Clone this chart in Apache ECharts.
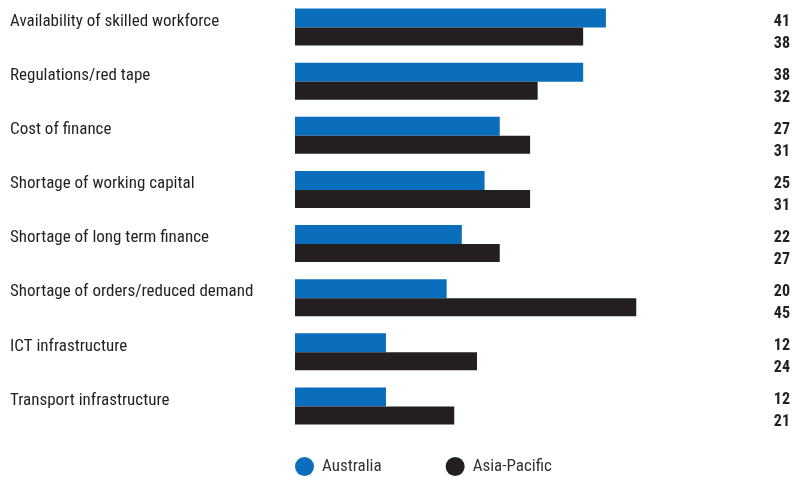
<!DOCTYPE html>
<html>
<head>
<meta charset="utf-8">
<script src="https://cdn.jsdelivr.net/npm/echarts@6/dist/echarts.min.js"></script>
<style>
  html, body { margin: 0; padding: 0; background: #fff; }
  #chart { width: 805px; height: 477px; }
</style>
</head>
<body>
<div id="chart"></div>
<script>
// Business obstacles: share of firms citing each, Australia vs Asia-Pacific
const categories = [
  'Availability of skilled workforce',
  'Regulations/red tape',
  'Cost of finance',
  'Shortage of working capital',
  'Shortage of long term finance',
  'Shortage of orders/reduced demand',
  'ICT infrastructure',
  'Transport infrastructure'
];
const australia = [41, 38, 27, 25, 22, 20, 12, 12];
const asiaPacific = [38, 32, 31, 31, 27, 45, 24, 21];

const FONT = '"Liberation Sans Narrow", "Roboto Condensed", "Liberation Sans", sans-serif';
const GRID_LEFT = 295;
const LABEL_RIGHT = 790;

const chart = echarts.init(document.getElementById('chart'), null, { renderer: 'canvas' });

// value printed flush right at the chart edge, beside its bar
function valueLabel(dy) {
  return {
    show: true,
    position: [LABEL_RIGHT - GRID_LEFT, '50%'],
    offset: [0, dy],
    align: 'right',
    verticalAlign: 'middle',
    fontFamily: FONT,
    fontWeight: 'bold',
    fontSize: 16,
    color: '#231f20'
  };
}

chart.setOption({
  animation: false,
  textStyle: { fontFamily: FONT },
  grid: { left: GRID_LEFT, top: 0, width: 455, height: 433, containLabel: false },
  legend: {
    top: 457,
    left: 295,
    padding: 0,
    itemGap: 64,
    itemWidth: 19,
    itemHeight: 19,
    icon: 'circle',
    textStyle: { fontFamily: FONT, fontSize: 17, color: '#333', padding: [0, 0, 0, 3] },
    data: ['Australia', 'Asia-Pacific']
  },
  xAxis: {
    type: 'value',
    min: 0,
    max: 60,
    show: false
  },
  yAxis: {
    type: 'category',
    inverse: true,
    data: categories,
    axisLine: { show: false },
    axisTick: { show: false },
    splitLine: { show: false },
    axisLabel: {
      align: 'left',
      verticalAlign: 'bottom',
      lineHeight: 11,
      margin: GRID_LEFT - 10,
      fontFamily: FONT,
      fontSize: 17,
      color: '#231f20'
    }
  },
  series: [
    {
      name: 'Australia',
      type: 'bar',
      data: australia,
      barWidth: 19,
      barGap: '0%',
      itemStyle: { color: '#0a6ebd' },
      label: valueLabel(3.5)
    },
    {
      name: 'Asia-Pacific',
      type: 'bar',
      data: asiaPacific,
      barWidth: 18,
      barGap: '0%',
      itemStyle: { color: '#231f20' },
      label: valueLabel(7)
    }
  ]
});
</script>
</body>
</html>
